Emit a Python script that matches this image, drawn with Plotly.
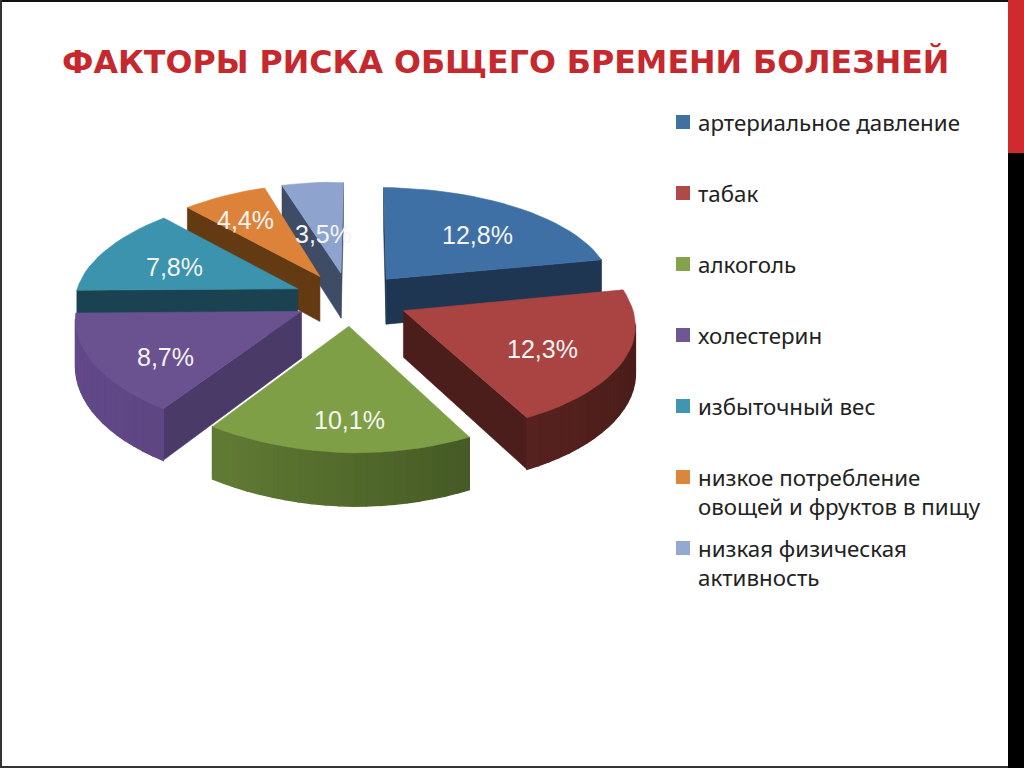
import math
import plotly.graph_objects as go

title = "ФАКТОРЫ РИСКА ОБЩЕГО БРЕМЕНИ БОЛЕЗНЕЙ"
categories = ["артериальное давление", "табак", "алкоголь", "холестерин", "избыточный вес",
              "низкое потребление<br>овощей и фруктов в пищу", "низкая физическая<br>активность"]
values = [12.8, 12.3, 10.1, 8.7, 7.8, 4.4, 3.5]
labels = ["12,8%", "12,3%", "10,1%", "8,7%", "7,8%", "4,4%", "3,5%"]
top_colors = ["#3F70A5", "#A94442", "#7F9F47", "#6A5190", "#3C93AD", "#DD8339", "#8EA4CE"]
wall_colors = ["#1E3652", "#4B1E1B", "#3F5424", "#4A3A68", "#1B4250", "#633A12", "#3F4C66"]
swatch_colors = ["#41719F", "#B04A48", "#84A24D", "#6F5694", "#3F96AE", "#DC853C", "#93A9CF"]
arc_left = ["#2E4F75", "#7A302D", "#6F8A3A", "#63498A", "#2C6E80", "#9A5A20", "#6F80A0"]
arc_right = ["#1E3652", "#4A1D1A", "#36491E", "#4A3A68", "#1B4250", "#633A12", "#3F4C66"]
label_frac = [0.66, 0.70, 0.74, 0.68, 0.64, 0.66, 0.42]
draw_order = [6, 5, 4, 3, 0, 1, 2]

# page geometry / projection constants
CX, CY, R, RK, D, DEPTH, EXPL = 351, 299, 228, 106, 9.0, 46, 0.25
# small label adjustments in pixels, by slice
NUDGE_X = [3, -13, 8, 4, 5, -6, -3]
NUDGE_Y = [4, 4, 3, 10, 4, -2, 1]


def project(X, Z, lift=0.0):
    s = D / (D - Z)
    if Z >= 0:
        sx = 1 + 0.1 * Z
    elif X > 0:
        sx = 1 + 0.07 * Z
    else:
        sx = 1 + 0.165 * Z - 0.044 * Z * Z
    if X < 0:
        sx -= 0.011 * X ** 4
    roll = 7.5 * X if X < 0 else 2.5 * X
    return CX + X * R * sx, CY + Z * RK * s + roll + lift * s


def mix(c1, c2, t):
    a = [int(c1[i:i + 2], 16) for i in (1, 3, 5)]
    b = [int(c2[i:i + 2], 16) for i in (1, 3, 5)]
    return "#%02x%02x%02x" % tuple(round(p + (q - p) * t) for p, q in zip(a, b))


def area(pts):
    return sum(pts[i][0] * pts[(i + 1) % len(pts)][1] - pts[(i + 1) % len(pts)][0] * pts[i][1]
               for i in range(len(pts)))


def poly(pts, color, width=0.6):
    xs = [p[0] for p in pts] + [pts[0][0]]
    ys = [p[1] for p in pts] + [pts[0][1]]
    return go.Scatter(x=xs, y=ys, mode="lines", fill="toself", fillcolor=color,
                      line=dict(color=color, width=width), hoverinfo="skip", showlegend=False)


fig = go.Figure()
total = sum(values)
starts = [sum(values[:i]) / total * 2 * math.pi for i in range(len(values))]
spans = [v / total * 2 * math.pi for v in values]
label_pos = []
for i in draw_order:
    a0, da = starts[i], spans[i]
    mid = a0 + da / 2
    ox, oz = EXPL * math.sin(mid), -EXPL * math.cos(mid)
    n = max(4, int(math.degrees(da) / 3))
    angs = [a0 + da * k / n for k in range(n + 1)]
    rim = [(ox + math.sin(a), oz - math.cos(a)) for a in angs]
    apex = (ox, oz)
    for q, col in (
        ([project(*apex), project(*rim[0]), project(*rim[0], DEPTH), project(*apex, DEPTH)], wall_colors[i]),
        ([project(*rim[-1]), project(*apex), project(*apex, DEPTH), project(*rim[-1], DEPTH)], wall_colors[i]),
    ):
        if area(q) < 0:
            fig.add_trace(poly(q, col))
    for k in range(n):
        q = [project(*rim[k]), project(*rim[k + 1]), project(*rim[k + 1], DEPTH), project(*rim[k], DEPTH)]
        if area(q) < 0:
            t = (math.sin((angs[k] + angs[k + 1]) / 2) + 1) / 2
            fig.add_trace(poly(q, mix(arc_left[i], arc_right[i], t), width=1.4))
    fig.add_trace(poly([project(*apex)] + [project(*p) for p in rim], top_colors[i]))
    f = label_frac[i]
    label_pos.append((i, project(ox + f * math.sin(mid), oz - f * math.cos(mid))))

for i, (px, py) in sorted(label_pos):
    fig.add_annotation(x=px + NUDGE_X[i], y=py + NUDGE_Y[i], text=labels[i], showarrow=False,
                       font=dict(family="Liberation Sans", size=25, color="#F4F4F0"))

ROW0, PITCH, SWX, TXT = 122, 71, 683, 696
fig.add_trace(go.Scatter(x=[SWX] * len(categories), y=[ROW0 + PITCH * k for k in range(len(categories))],
                         mode="markers", hoverinfo="skip", showlegend=False,
                         marker=dict(symbol="square", size=14, color=swatch_colors, line=dict(width=0))))
for k, c in enumerate(categories):
    fig.add_annotation(x=TXT, y=ROW0 + PITCH * k - 17, text=c, showarrow=False, xanchor="left", yanchor="top",
                       align="left", font=dict(family="Noto Sans", size=22.3, color="#222222"))

fig.add_annotation(x=505, y=61, text="<b>" + title + "</b>", showarrow=False,
                   font=dict(family="DejaVu Sans", size=31.7, color="#C5282D"))

frame = [
    dict(x0=0, x1=1024, y0=0, y1=2, fillcolor="#111111"),
    dict(x0=0, x1=2, y0=0, y1=768, fillcolor="#333333"),
    dict(x0=0, x1=1024, y0=766, y1=768, fillcolor="#333333"),
    dict(x0=1008, x1=1024, y0=153, y1=768, fillcolor="#000000"),
    dict(x0=1008, x1=1024, y0=0, y1=153, fillcolor="#CF2A2E"),
]
fig.update_layout(
    width=1024, height=768, margin=dict(l=0, r=0, t=0, b=0),
    paper_bgcolor="white", plot_bgcolor="white", showlegend=False,
    xaxis=dict(range=[0, 1024], visible=False, fixedrange=True),
    yaxis=dict(range=[768, 0], visible=False, fixedrange=True),
    shapes=[dict(type="rect", xref="x", yref="y", line=dict(width=0), layer="below", **s) for s in frame],
)
fig.write_html("out.html", config=dict(displayModeBar=False),
               post_script="document.body.style.margin='0';")
